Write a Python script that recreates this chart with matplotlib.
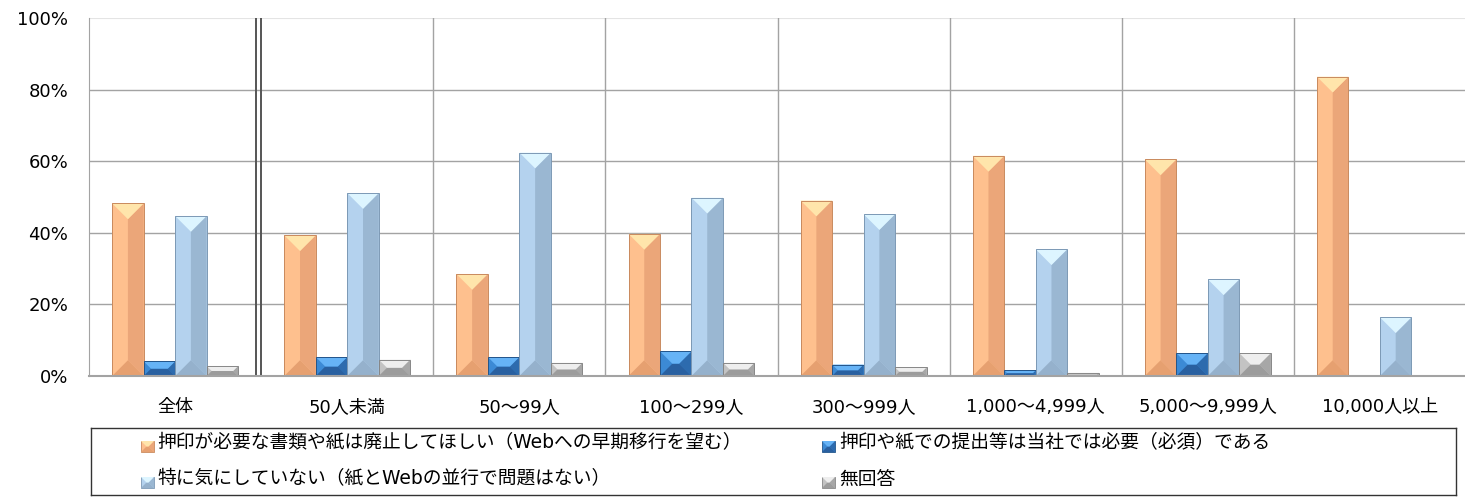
"""
plot.py - seal / paper submission survey by company size (bevelled Excel-style bars).
"""
import matplotlib

matplotlib.use("Agg")
import matplotlib.pyplot as plt
from matplotlib.patches import Polygon

plt.rcParams["font.family"] = ["DejaVu Sans", "Noto Sans CJK JP"]

W, H = 1465, 498

CATEGORIES = ["全体", "50人未満", "50～99人", "100～299人", "300～999人",
              "1,000～4,999人", "5,000～9,999人", "10,000人以上"]
SERIES_LABELS = [
    "押印が必要な書類や紙は廃止してほしい（Webへの早期移行を望む）",
    "押印や紙での提出等は当社では必要（必須）である",
    "特に気にしていない（紙とWebの並行で問題はない）",
    "無回答",
]
ABOLISH = [48.2, 39.3, 28.5, 39.7, 49.0, 61.5, 60.5, 83.6]
REQUIRED = [4.1, 5.3, 5.3, 6.9, 3.2, 1.6, 6.4, 0.0]
NO_CONCERN = [44.7, 51.1, 62.4, 49.8, 45.2, 35.4, 27.0, 16.4]
NO_ANSWER = [2.8, 4.6, 3.7, 3.7, 2.4, 0.9, 6.4, 0.0]
SERIES = [ABOLISH, REQUIRED, NO_CONCERN, NO_ANSWER]
Y_TICKS = [0, 20, 40, 60, 80, 100]

# face colours: left (base), top, right, bottom, edge
PALETTE = [
    {"left": "#FEC08E", "top": "#FFE5AB", "right": "#EBA679", "bottom": "#E6A070", "edge": "#C98A5E"},
    {"left": "#3C8AD5", "top": "#66B3F6", "right": "#2D6BAE", "bottom": "#2960A0", "edge": "#23558A"},
    {"left": "#B4D2EE", "top": "#DDF5FF", "right": "#9AB7D2", "bottom": "#95B1CC", "edge": "#7C99B5"},
    {"left": "#C3C3C3", "top": "#EEEEEE", "right": "#A7A7A7", "bottom": "#9C9C9C", "edge": "#878787"},
]

BAR_W = 0.183


def bevel_polys(x0, width, height, sx, sy, y0=0.0):
    """Return top/right/bottom bevel polygons for a bar (45 degree bevel in pixels)."""
    e = min(width * sx, height * sy) / 2.0
    ex, ey = e / sx, e / sy
    L, R, B, T = x0, x0 + width, y0, y0 + height
    top = [(L, T), (R, T), (R - ex, T - ey), (L + ex, T - ey)]
    right = [(R, T), (R, B), (R - ex, B + ey), (R - ex, T - ey)]
    bottom = [(L, B), (R, B), (R - ex, B + ey), (L + ex, B + ey)]
    return top, right, bottom


def draw_bevel(ax, polys, colors, z):
    top, right, bottom = polys
    for poly, key in ((right, "right"), (bottom, "bottom"), (top, "top")):
        ax.add_patch(Polygon(poly, closed=True, facecolor=colors[key],
                             edgecolor="none", zorder=z))


fig = plt.figure(figsize=(W / 100, H / 100), dpi=100)
ax = fig.add_axes([89.1 / W, (H - 376) / H, (1466 - 89.1) / W, (376 - 18) / H])
ax.set_xlim(0, len(CATEGORIES))
ax.set_ylim(0, 100)

sx = ax.bbox.width / len(CATEGORIES)
sy = ax.bbox.height / 100.0

# grid
for v in Y_TICKS[1:-1]:
    ax.axhline(v, color="#A3A3A3", linewidth=1.0, zorder=1)
ax.axhline(100, color="#E4E4E4", linewidth=1.5, zorder=1)
for b in range(2, len(CATEGORIES)):
    ax.axvline(b, color="#A3A3A3", linewidth=1.0, zorder=1)
ax.axvline(1.0, color="#555555", linewidth=1.4, zorder=1)
ax.axvline(1.0 - 5.2 / sx, color="#555555", linewidth=1.4, zorder=1)

centers = [i + 0.5 for i in range(len(CATEGORIES))]
for s, (vals, colors) in enumerate(zip(SERIES, PALETTE)):
    xs = [c + (s - 1.5) * BAR_W for c in centers]
    ax.bar(xs, vals, width=BAR_W, color=colors["left"], linewidth=0, zorder=3)
    for x, v in zip(xs, vals):
        if v > 0:
            draw_bevel(ax, bevel_polys(x - BAR_W / 2, BAR_W, v, sx, sy), colors, 3.5)
    xs_nz = [x for x, v in zip(xs, vals) if v > 0]
    vals_nz = [v for v in vals if v > 0]
    ax.bar(xs_nz, vals_nz, width=BAR_W, fill=False, edgecolor=colors["edge"],
           linewidth=0.7, zorder=4)

for side in ("top", "right"):
    ax.spines[side].set_visible(False)
ax.spines["left"].set_color("#A3A3A3")
ax.spines["bottom"].set_color("#A3A3A3")
ax.spines["bottom"].set_linewidth(1.5)
ax.spines["bottom"].set_zorder(5)

ax.set_yticks(Y_TICKS)
ax.set_yticklabels([f"{v}%" for v in Y_TICKS], fontsize=13)
ax.set_xticks(centers)
ax.set_xticklabels(CATEGORIES, fontsize=13)
ax.tick_params(axis="y", length=0, pad=15)
ax.tick_params(axis="x", length=0, pad=16)

# legend box drawn in figure-pixel coordinates (y grows downward)
lax = fig.add_axes([91 / W, (H - 494.5) / H, (1456 - 91) / W, 67 / H])
lax.set_xlim(91, 1456)
lax.set_ylim(494.5, 427.5)
lax.set_xticks([])
lax.set_yticks([])
for sp in lax.spines.values():
    sp.set_color("#333333")
    sp.set_linewidth(1.0)

# marker left x, text left x, row centre y
slots = [(141, 157, 443), (822, 839, 443), (141, 157, 479), (822, 839, 479)]
MK_W, MK_H = 13, 11
for (mx, tx, ty), label, colors in zip(slots, SERIES_LABELS, PALETTE):
    mb = ty + 9  # marker bottom (screen y)
    # build in an upward frame then flip to the inverted legend axes
    polys = bevel_polys(mx, MK_W, MK_H, 1.0, 1.0, y0=0.0)
    flip = lambda poly: [(px, mb - py) for px, py in poly]
    lax.add_patch(Polygon(flip([(mx, 0), (mx + MK_W, 0), (mx + MK_W, MK_H), (mx, MK_H)]),
                          facecolor=colors["left"], edgecolor=colors["edge"], linewidth=0.6))
    draw_bevel(lax, [flip(p) for p in polys], colors, 2)
    lax.text(tx, ty, label, fontsize=13.5, va="center", ha="left", color="#000000")

fig.savefig("out.png", dpi=100)
